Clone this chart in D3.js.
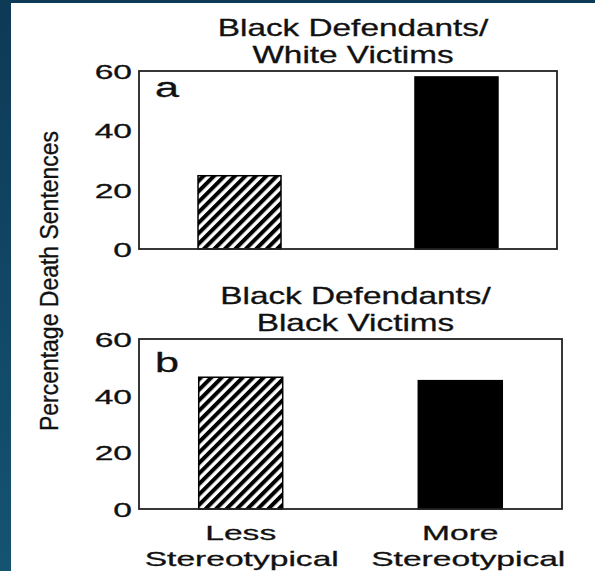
<!DOCTYPE html>
<html>
<head>
<meta charset="utf-8">
<script src="https://cdn.jsdelivr.net/npm/d3@7/dist/d3.min.js"></script>
<style>
body { margin: 0; background: #fff; }
text { font-family: "Liberation Sans", Arial, Helvetica, sans-serif; fill: #111; stroke: #111; stroke-width: 0.3px; }
</style>
</head>
<body>
<svg id="chart" width="595" height="571"></svg>
<script>
// data
var groups = ['Less Stereotypical', 'More Stereotypical'];
var groupLines = [['Less', 'Stereotypical'], ['More', 'Stereotypical']];
var panelNames = ['a', 'b'];
var panelTitles = [['Black Defendants/', 'White Victims'], ['Black Defendants/', 'Black Victims']];
var whiteVictims = [24.7, 58.0];
var blackVictims = [46.5, 45.3];
var yTicks = [0, 20, 40, 60];
var yLabel = 'Percentage Death Sentences';

var panelData = [whiteVictims, blackVictims];
// frame boxes of the two panels
var boxes = [
  {left: 139, right: 557, top: 71, bottom: 249, labelDy: 26},
  {left: 139, right: 562, top: 339, bottom: 509, labelDy: 33}
];

var svg = d3.select('#chart');

// dark slide edge
var defs = svg.append('defs');
var grad = defs.append('linearGradient').attr('id', 'edge')
  .attr('x1', 0).attr('y1', 0).attr('x2', 0).attr('y2', 1);
grad.append('stop').attr('offset', '0%').attr('stop-color', '#0d3a56');
grad.append('stop').attr('offset', '100%').attr('stop-color', '#155373');
svg.append('rect').attr('x', 0).attr('y', 0).attr('width', 11).attr('height', 571).attr('fill', 'url(#edge)');
svg.append('rect').attr('x', 0).attr('y', 0).attr('width', 595).attr('height', 3).attr('fill', '#0d3a56');

// hatch for the "less" bars
var hatch = defs.append('pattern').attr('id', 'hatch')
  .attr('patternUnits', 'userSpaceOnUse')
  .attr('width', 7.4).attr('height', 7.4)
  .attr('patternTransform', 'rotate(45)');
hatch.append('rect').attr('width', 7.4).attr('height', 7.4).attr('fill', '#fff');
hatch.append('rect').attr('width', 4).attr('height', 7.4).attr('fill', '#000');

// text drawn wider than the font, like the slide
function stext(g, str, x, y, fs, sx, anchor) {
  return g.append('text')
    .attr('transform', 'translate(' + x + ',' + y + ') scale(' + sx + ',1)')
    .attr('text-anchor', anchor)
    .style('font-size', fs + 'px')
    .text(str);
}

boxes.forEach(function(b, p) {
  var x = d3.scaleBand().domain(groups).range([b.left, b.right])
    .paddingInner(0.6175).paddingOuter(0.272);
  var y = d3.scaleLinear().domain([0, 60]).range([b.bottom, b.top]);
  var g = svg.append('g');

  // title
  var cx = (b.left + b.right) / 2 + 5;
  stext(g, panelTitles[p][0], cx, b.top - 35, 23, 1.45, 'middle');
  stext(g, panelTitles[p][1], cx, b.top - 8, 23, 1.45, 'middle');

  // bars
  g.selectAll('rect.bar').data(panelData[p]).enter().append('rect')
    .attr('class', 'bar')
    .attr('x', function(d, i) { return x(groups[i]); })
    .attr('width', x.bandwidth())
    .attr('y', function(d) { return y(d); })
    .attr('height', function(d) { return y(0) - y(d); })
    .attr('fill', function(d, i) { return i == 0 ? 'url(#hatch)' : '#000'; })
    .attr('stroke', '#000').attr('stroke-width', 1.5);

  // frame
  g.append('rect').attr('x', b.left).attr('y', b.top)
    .attr('width', b.right - b.left).attr('height', b.bottom - b.top)
    .attr('fill', 'none').attr('stroke', '#222').attr('stroke-width', 1.8);

  // y axis labels
  var ax = g.append('g').attr('transform', 'translate(' + b.left + ',0)')
    .call(d3.axisLeft(y).tickValues(yTicks).tickSize(0).tickFormat(d3.format('d')));
  ax.select('.domain').remove();
  ax.selectAll('text')
    .attr('x', null).attr('dy', null)
    .attr('transform', 'translate(-7,7.5) scale(1.6,1)')
    .style('font-size', '21px')
    .style('font-family', '"Liberation Sans", Arial, sans-serif')
    .attr('fill', '#111');

  // panel letter
  stext(g, panelNames[p], b.left + 16, b.top + b.labelDy, 27, 1.6, 'start');

  // category labels under the last panel
  if (p == boxes.length - 1) {
    groups.forEach(function(c, i) {
      var mx = x(c) + x.bandwidth() / 2;
      stext(g, groupLines[i][0], mx, b.bottom + 31, 21, 1.6, 'middle');
      stext(g, groupLines[i][1], mx + (i == 1 ? 8 : 1), b.bottom + 57, 21, 1.6, 'middle');
    });
  }
});

// shared y label
svg.append('text')
  .attr('transform', 'translate(58,281) rotate(-90) scale(1,1.1)')
  .attr('text-anchor', 'middle')
  .style('font-size', '23px')
  .text(yLabel);
</script>
</body>
</html>
